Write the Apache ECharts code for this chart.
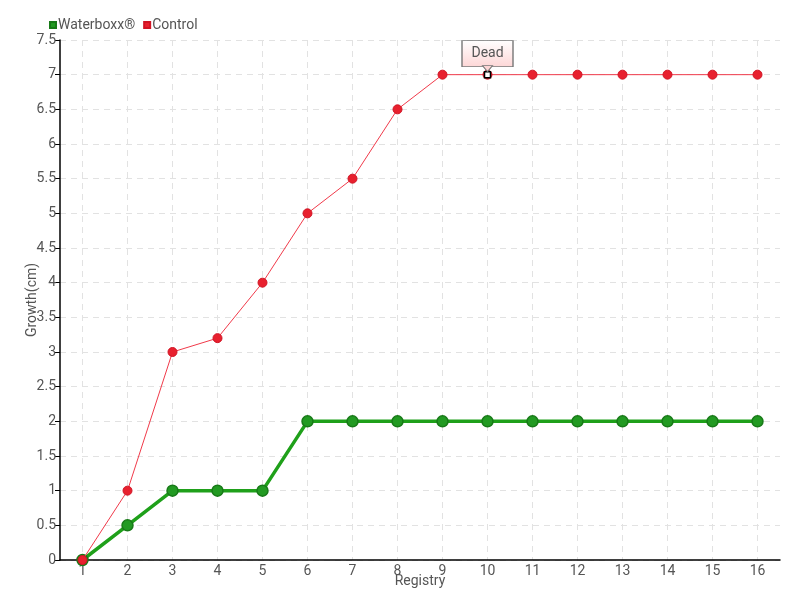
<!DOCTYPE html>
<html>
<head>
<meta charset="utf-8">
<script src="https://cdn.jsdelivr.net/npm/echarts@6/dist/echarts.min.js"></script>
<style>
html, body { margin: 0; padding: 0; background: #fff; }
#chart { width: 800px; height: 600px; }
</style>
</head>
<body>
<div id="chart"></div>
<script>
// data
const registry = ['1', '2', '3', '4', '5', '6', '7', '8', '9', '10', '11', '12', '13', '14', '15', '16'];
const waterboxx = [0, 0.5, 1, 1, 1, 2, 2, 2, 2, 2, 2, 2, 2, 2, 2, 2];
const control = [0, 1, 3, 3.2, 4, 5, 5.5, 6.5, 7, 7, 7, 7, 7, 7, 7, 7];
const deadIndex = 9;
const deadText = 'Dead';

const FONT = 'Roboto, "Liberation Sans", sans-serif';
const textColor = '#555';
const gridColor = '#e2e2e2';

const chart = echarts.init(document.getElementById('chart'));

const deadCoord = [deadIndex, control[deadIndex]];

const option = {
    backgroundColor: '#fff',
    animation: false,
    textStyle: { fontFamily: FONT },
    legend: {
        left: 44,
        top: 13,
        itemWidth: 6,
        itemHeight: 6,
        itemGap: 8,
        icon: 'rect',
        textStyle: { color: textColor, fontSize: 14, fontFamily: FONT, padding: [0, 0, 0, -3] },
        data: ['Waterboxx®', 'Control']
    },
    grid: { left: 60, right: 20, top: 40, bottom: 40, outerBoundsMode: 'none' },
    xAxis: {
        type: 'category',
        data: registry,
        boundaryGap: true,
        name: 'Registry',
        nameLocation: 'middle',
        nameGap: 14,
        nameMoveOverlap: false,
        nameTextStyle: { color: textColor, fontSize: 14, fontFamily: FONT },
        axisLine: { lineStyle: { color: '#000', width: 1.5 } },
        axisTick: { alignWithLabel: true, length: 4, lineStyle: { color: '#000' } },
        axisLabel: { color: textColor, fontSize: 14, margin: 4, fontFamily: FONT },
        splitLine: {
            show: true,
            alignWithLabel: true,
            lineStyle: { color: gridColor, type: [6, 5], width: 1 }
        }
    },
    yAxis: {
        type: 'value',
        min: 0,
        max: 7.5,
        interval: 0.5,
        name: 'Growth(cm)',
        nameLocation: 'middle',
        nameGap: 21,
        nameMoveOverlap: false,
        nameTextStyle: { color: textColor, fontSize: 14, fontFamily: FONT },
        axisLine: { show: true, lineStyle: { color: '#000', width: 1.5 } },
        axisTick: { show: true, length: 5, lineStyle: { color: '#000' } },
        axisLabel: { color: textColor, fontSize: 14, margin: 4, fontFamily: FONT },
        splitLine: { lineStyle: { color: gridColor, type: [6, 5], width: 1 } }
    },
    series: [
        {
            name: 'Waterboxx®',
            type: 'line',
            data: waterboxx,
            symbol: 'circle',
            symbolSize: 11,
            lineStyle: { color: '#1fa01a', width: 3.5 },
            itemStyle: { color: '#229a22', borderColor: '#187a18', borderWidth: 1.5 },
            z: 2
        },
        {
            name: 'Control',
            type: 'line',
            data: control,
            symbol: 'circle',
            symbolSize: 9,
            lineStyle: { color: '#f03a4a', width: 1 },
            itemStyle: { color: '#e8202e', borderColor: '#d01424', borderWidth: 1 },
            markPoint: {
                silent: true,
                label: { show: false },
                data: [
                    {
                        // white square marking the dead plant
                        coord: deadCoord,
                        symbol: 'rect',
                        symbolSize: 6,
                        itemStyle: { color: '#fff', borderColor: '#000', borderWidth: 1.5 }
                    },
                    {
                        // callout box
                        coord: deadCoord,
                        symbol: 'rect',
                        symbolSize: [51, 26],
                        symbolOffset: [0, -21],
                        itemStyle: {
                            borderColor: '#777',
                            borderWidth: 1,
                            color: new echarts.graphic.LinearGradient(0, 0, 0, 1, [
                                { offset: 0, color: '#ffffff' },
                                { offset: 1, color: '#fdd6d6' }
                            ])
                        },
                        label: {
                            show: true,
                            position: 'inside',
                            formatter: deadText,
                            color: textColor,
                            fontSize: 14,
                            fontFamily: FONT
                        }
                    },
                    {
                        // callout pointer
                        coord: deadCoord,
                        symbol: 'triangle',
                        symbolSize: [10, 6],
                        symbolRotate: 180,
                        symbolOffset: [0, -6],
                        itemStyle: { color: '#fdd6d6', borderColor: '#777', borderWidth: 1 }
                    }
                ]
            },
            z: 3
        }
    ]
};

chart.setOption(option);
</script>
</body>
</html>
